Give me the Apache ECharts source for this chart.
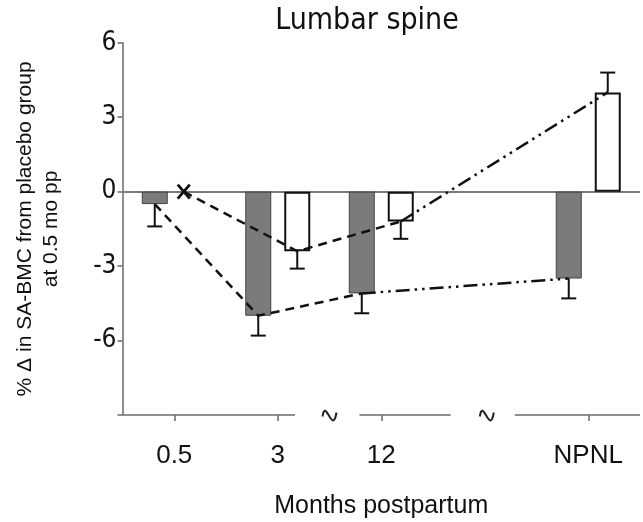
<!DOCTYPE html>
<html><head><meta charset="utf-8">
<script src="https://cdn.jsdelivr.net/npm/echarts@6/dist/echarts.min.js"></script>
<style>html,body{margin:0;padding:0;background:#fff}#c{width:643px;height:522px}</style>
</head><body><div id="c"></div>
<script>
// ---- data ----
const categories = ['0.5', '3', '12', '', 'NPNL'];
const yTickLabels = [6, 3, 0, -3, -6];
const greyValues = [-0.5, -5.0, -4.1, null, -3.5];
const greyErrors = [0.9, 0.8, 0.8, null, 0.8];
const whiteValues = [null, -2.4, -1.2, null, 4.0];
const whiteErrors = [null, 0.7, 0.7, null, 0.8];
const markerPoint = [0, 0];                       // 'X' at 0.5 mo (reference)
const greyDashed = [[0, -0.5], [1, -5.0], [2, -4.1]];
const greyDashDot = [[2, -4.1], [4, -3.5]];
const whiteDashed = [[0, 0], [1, -2.4], [2, -1.2]];
const whiteDashDot = [[2, -1.2], [4, 4.0]];

// ---- layout / style ----
const G = {left: 122.5, top: 42.8, width: 517.5, height: 372.2};
const BAR_W = 26, BAR_GAP = 13;
const HALF_PITCH = (BAR_W + BAR_GAP) / 2;
const MARKER_SHIFT = -10;
const band = G.width / categories.length;
const axisY = G.top + G.height;
const axisSegmentsBands = [[0, 1.667], [2.29, 3.17], [3.79, 5]];
const breakBands = [2.0, 3.52];
const AXIS_COLOR = '#6a6a6a';
const TAHOMA = '"DejaVu Sans Condensed", "DejaVu Sans", sans-serif';
const ARIAL = '"Liberation Sans", Arial, sans-serif';

function sideOffset(side, catIdx) {
  if (side === 'grey') return -HALF_PITCH;
  return catIdx === markerPoint[0] && whiteValues[catIdx] == null ? HALF_PITCH + MARKER_SHIFT : HALF_PITCH;
}

function lineSeries(points, side, dash) {
  return {
    type: 'custom', coordinateSystem: 'cartesian2d', silent: true, z: 6,
    data: points,
    renderItem(params, api) {
      if (params.dataIndex !== 0) return null;
      const pts = points.map(p => { const c = api.coord(p); return [c[0] + sideOffset(side, p[0]), c[1]]; });
      return {type: 'polyline', shape: {points: pts},
        style: {stroke: '#111', lineWidth: 2.5, lineDash: dash, fill: null}};
    }
  };
}

function errorSeries(values, errors, side) {
  const data = [];
  values.forEach((v, i) => { if (v != null) data.push([i, v, errors[i]]); });
  return {
    type: 'custom', coordinateSystem: 'cartesian2d', silent: true, z: 5,
    data: data,
    renderItem(params, api) {
      const i = api.value(0), v = api.value(1), e = api.value(2);
      const dir = v < 0 ? -1 : 1;
      const p0 = api.coord([i, v]), p1 = api.coord([i, v + dir * e]);
      const x = p0[0] + sideOffset(side, i);
      const st = {stroke: '#111', lineWidth: 2};
      return {type: 'group', children: [
        {type: 'line', shape: {x1: x, y1: p0[1], x2: x, y2: p1[1]}, style: st},
        {type: 'line', shape: {x1: x - 7.5, y1: p1[1], x2: x + 7.5, y2: p1[1]}, style: st}
      ]};
    }
  };
}

const markerSeries = {
  type: 'custom', coordinateSystem: 'cartesian2d', silent: true, z: 7,
  data: [markerPoint],
  renderItem(params, api) {
    const c = api.coord([api.value(0), api.value(1)]);
    const x = c[0] + HALF_PITCH + MARKER_SHIFT, y = c[1], sx = 6, sy = 7;
    const st = {stroke: '#111', lineWidth: 2.8};
    return {type: 'group', children: [
      {type: 'line', shape: {x1: x - sx, y1: y - sy, x2: x + sx, y2: y + sy}, style: st},
      {type: 'line', shape: {x1: x + sx, y1: y - sy, x2: x - sx, y2: y + sy}, style: st}
    ]};
  }
};

const graphics = [];
axisSegmentsBands.forEach(s => graphics.push({
  type: 'line', silent: true,
  shape: {x1: G.left + s[0] * band, y1: axisY, x2: G.left + s[1] * band, y2: axisY},
  style: {stroke: AXIS_COLOR, lineWidth: 1.5}
}));
breakBands.forEach(b => graphics.push({
  type: 'bezierCurve', silent: true, x: G.left + b * band, y: axisY + 1.5,
  shape: {x1: -7, y1: 0, cpx1: -4, cpy1: -20, cpx2: 3, cpy2: 20, x2: 7, y2: -4},
  style: {stroke: '#222', lineWidth: 2, fill: null}
}));

const option = {
  animation: false,
  backgroundColor: '#fff',
  title: {
    text: 'Lumbar spine', left: 362, top: 1, textAlign: 'center',
    textStyle: {fontFamily: TAHOMA, fontSize: 30, fontWeight: 'normal', color: '#111'}
  },
  grid: {left: G.left, top: G.top, width: G.width, height: G.height, containLabel: false, outerBoundsMode: 'none'},
  xAxis: {
    type: 'category', data: categories, boundaryGap: true,
    name: 'Months postpartum', nameLocation: 'middle', nameGap: 79,
    nameTextStyle: {fontFamily: ARIAL, fontSize: 25, color: '#111'},
    axisLine: {show: false, onZero: false},
    axisTick: {show: true, alignWithLabel: true, length: 6, interval: (i, v) => v !== '',
      lineStyle: {color: AXIS_COLOR, width: 1.5}},
    axisLabel: {interval: 0, margin: 28, fontFamily: ARIAL, fontSize: 26, color: '#111'},
    splitLine: {show: false}
  },
  yAxis: {
    type: 'value', min: -9, max: 6, interval: 3,
    name: '% \u0394 in SA-BMC from placebo group\nat 0.5 mo pp', nameLocation: 'middle', nameRotate: 90, nameGap: 58,
    nameTextStyle: {fontFamily: ARIAL, fontSize: 21, lineHeight: 26, color: '#111', align: 'center'},
    axisLine: {show: true, onZero: false, lineStyle: {color: AXIS_COLOR, width: 1.5}},
    axisTick: {show: true, length: 5, lineStyle: {color: AXIS_COLOR, width: 1.5}},
    axisLabel: {margin: 6, fontFamily: TAHOMA, fontSize: 26, color: '#111',
      formatter: v => yTickLabels.includes(v) ? String(v) : ''},
    splitLine: {show: false}
  },
  series: [
    {
      type: 'bar', name: 'grey', data: greyValues, barWidth: BAR_W, barGap: (BAR_GAP / BAR_W * 100) + '%',
      itemStyle: {color: '#7b7b7b', borderColor: '#444', borderWidth: 1}, silent: true, z: 3,
      markLine: {silent: true, symbol: 'none', label: {show: false}, z: 2,
        lineStyle: {color: '#7a7a7a', width: 1.8, type: 'solid'}, data: [{yAxis: 0}]}
    },
    {
      type: 'bar', name: 'white', data: whiteValues, barWidth: BAR_W,
      itemStyle: {color: '#fff', borderColor: '#111', borderWidth: 2}, silent: true, z: 3
    },
    errorSeries(greyValues, greyErrors, 'grey'),
    errorSeries(whiteValues, whiteErrors, 'white'),
    lineSeries(greyDashed, 'grey', [9, 6]),
    lineSeries(greyDashDot, 'grey', [14, 5, 2.5, 5, 2.5, 5]),
    lineSeries(whiteDashed, 'white', [9, 6]),
    lineSeries(whiteDashDot, 'white', [14, 5, 2.5, 5, 2.5, 5]),
    markerSeries
  ],
  graphic: graphics
};
const chart = echarts.init(document.getElementById('c'), null, {renderer: 'canvas'});
chart.setOption(option);
</script></body></html>
